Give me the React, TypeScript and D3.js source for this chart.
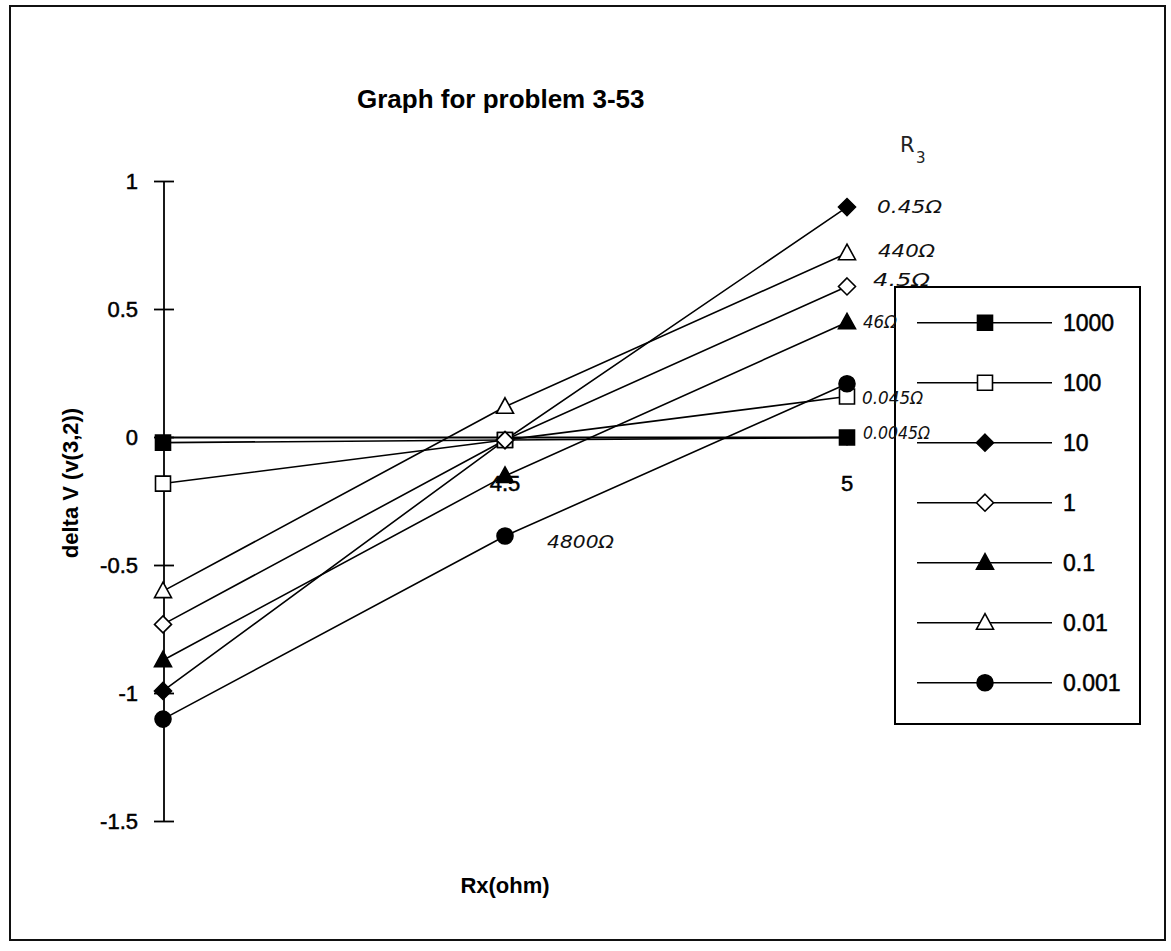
import React from "react";
import * as d3 from "d3";

const categories = ["4", "4.5", "5"];
const seriesNames = ["1000", "100", "10", "1", "0.1", "0.01", "0.001"];
const s1000 = [-0.02, -0.01, 0.0];
const s100 = [-0.18, -0.01, 0.16];
const s10 = [-0.99, -0.01, 0.9];
const s1 = [-0.73, -0.01, 0.59];
const s01 = [-0.87, -0.15, 0.45];
const s001 = [-0.6, 0.12, 0.72];
const s0001 = [-1.1, -0.385, 0.21];
const seriesValues = [s1000, s100, s10, s1, s01, s001, s0001];
const yTicks = [1, 0.5, 0, -0.5, -1, -1.5];
// handwritten R3 notes: [series index, category index, text]
const noteSeries = [2, 5, 3, 4, 1, 0, 6];
const noteCat = [2, 2, 2, 2, 2, 2, 1];
const noteText = ["0.45Ω", "440Ω", "4.5Ω", "46Ω", "0.045Ω", "0.0045Ω", "4800Ω"];

const markerKinds = ["sqF", "sqO", "diF", "diO", "trF", "trO", "ciF"];
const noteDx = [30, 31, 26, 16, 15, 16, 42];
const noteDy = [0, -2, -6, 0, 2, -4, 6];
const noteLen = [65, 57, 57, 34, 61, 67, 67];

function markerPath(kind: string): string {
  const k = kind.slice(0, 2);
  if (k === "sq") return "M-7.5,-7.5H7.5V7.5H-7.5Z";
  if (k === "di") return "M0,-8.5L8.5,0L0,8.5L-8.5,0Z";
  if (k === "tr") return "M0,-9L8.5,6.5L-8.5,6.5Z";
  const p = d3.path();
  p.arc(0, 0, 8, 0, Math.PI * 2);
  p.closePath();
  return p.toString();
}

function Marker({ kind, x, y }: { kind: string; x: number; y: number }) {
  const filled = kind.endsWith("F");
  return (
    <path
      d={markerPath(kind)}
      transform={`translate(${x},${y})`}
      fill={filled ? "#000" : "#fff"}
      stroke="#000"
      strokeWidth={1.6}
    />
  );
}

export default function App() {
  const W = 1171;
  const H = 951;
  const x = d3.scalePoint<string>().domain(categories).range([163, 847]);
  const y = d3.scaleLinear().domain([-1.5, 1]).range([821.5, 181.5]);
  const line = d3
    .line<number>()
    .x((_, i) => x(categories[i]) as number)
    .y((v) => y(v));

  const font = "'Liberation Sans', Arial, sans-serif";
  const hand = "'DejaVu Sans', sans-serif";
  const axisX = 164;
  const legY0 = 322.7;
  const legStep = 60;
  const heavy = { stroke: "#000", strokeWidth: 0.5 };

  return (
    <svg
      width={W}
      height={H}
      style={{ position: "absolute", left: 0, top: 0, background: "#fff" }}
      fontFamily={font}
    >
      <rect x={0} y={0} width={W} height={H} fill="#fff" />
      {/* outer frame */}
      <rect x={10} y={6} width={1155} height={934} fill="none" stroke="#111" strokeWidth={2} />

      {/* title */}
      <text x={357} y={108} fontSize={26} fontWeight="bold" fill="#000">
        Graph for problem 3-53
      </text>

      {/* y axis */}
      <line x1={axisX} x2={axisX} y1={y(1)} y2={y(-1.5)} stroke="#000" strokeWidth={1.8} />
      {yTicks.map((t) => (
        <g key={t}>
          <line x1={axisX - 10} x2={axisX + 10} y1={y(t)} y2={y(t)} stroke="#000" strokeWidth={1.8} />
          <text x={138} y={y(t)} dy="0.36em" textAnchor="end" fontSize={22} fill="#000" {...heavy}>
            {String(t)}
          </text>
        </g>
      ))}
      <text
        transform={`translate(70,${483}) rotate(-90)`}
        textAnchor="middle"
        dy="0.36em"
        fontSize={22}
        fontWeight="bold"
        fill="#000"
      >
        delta V (v(3,2))
      </text>

      {/* x axis */}
      <line x1={x(categories[0])} x2={x(categories[2])} y1={y(0)} y2={y(0)} stroke="#000" strokeWidth={1.8} />
      {categories.map((c) => (
        <g key={c}>
          <line x1={x(c)} x2={x(c)} y1={y(0)} y2={y(0) + 8} stroke="#000" strokeWidth={1.6} />
          <text x={x(c)} y={483} dy="0.36em" textAnchor="middle" fontSize={22} fill="#000" {...heavy}>
            {c}
          </text>
        </g>
      ))}
      <text x={505} y={885} dy="0.36em" textAnchor="middle" fontSize={22} fontWeight="bold" fill="#000">
        Rx(ohm)
      </text>

      {/* series lines */}
      {seriesValues.map((vals, si) => (
        <path key={"l" + si} d={line(vals) || ""} fill="none" stroke="#000" strokeWidth={1.6} />
      ))}
      {/* markers */}
      {seriesValues.map((vals, si) =>
        vals.map((v, i) => (
          <Marker key={`m${si}-${i}`} kind={markerKinds[si]} x={x(categories[i]) as number} y={y(v)} />
        ))
      )}

      {/* legend */}
      <rect x={895} y={287} width={245} height={437} fill="#fff" stroke="#000" strokeWidth={2} />
      {seriesNames.map((n, i) => {
        const ly = legY0 + i * legStep;
        return (
          <g key={"lg" + n}>
            <line x1={917} x2={1052} y1={ly} y2={ly} stroke="#000" strokeWidth={1.6} />
            <Marker kind={markerKinds[i]} x={985} y={ly} />
            <text x={1063} y={ly} dy="0.36em" fontSize={23} fill="#000" {...heavy}>
              {n}
            </text>
          </g>
        );
      })}

      {/* handwritten notes */}
      <text x={900} y={152} fontSize={21} fontFamily={hand} fill="#222">
        R
      </text>
      <text x={916} y={163} fontSize={15} fontFamily={hand} fill="#222">
        3
      </text>
      {noteText.map((t, i) => {
        const si = noteSeries[i];
        const ci = noteCat[i];
        const px = (x(categories[ci]) as number) + noteDx[i];
        const py = y(seriesValues[si][ci]) + noteDy[i];
        return (
          <text
            key={"n" + i}
            x={px}
            y={py}
            dy="0.35em"
            fontSize={17}
            fontFamily={hand}
            fontStyle="italic"
            textLength={noteLen[i]}
            lengthAdjust="spacingAndGlyphs"
            fill="#111"
          >
            {t}
          </text>
        );
      })}
    </svg>
  );
}
